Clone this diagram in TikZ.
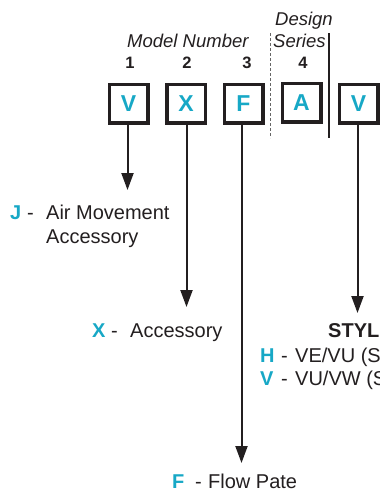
\documentclass[tikz,border=0pt]{standalone}
\usepackage{fontspec}
\setmainfont{Liberation Sans}
\usetikzlibrary{arrows.meta}
\definecolor{ink}{HTML}{231F20}
\definecolor{cy}{HTML}{17A8C6}
\tikzset{
  codebox/.style={draw=ink, line width=3.5pt, minimum size=38.5pt, inner sep=0pt,
    font=\fontsize{23}{23}\selectfont\bfseries, text=cy},
  lbl/.style={inner sep=0pt, anchor=base west, text=ink, font=\fontsize{20}{24}\selectfont},
  key/.style={lbl, text=cy, font=\fontsize{20}{24}\selectfont\bfseries},
  ital/.style={inner sep=0pt, anchor=base west, text=ink, font=\fontsize{18.5}{20}\selectfont\itshape},
  num/.style={inner sep=0pt, anchor=base, text=ink, font=\fontsize{16.5}{18}\selectfont\bfseries},
  arr/.style={draw=ink, line width=2pt, -{Triangle[length=17pt,width=12pt]}},
}
\begin{document}
\begin{tikzpicture}[x=1pt,y=-1pt]
\useasboundingbox (0,0) rectangle (380,493);
\clip (0,0) rectangle (380,493);
\fill[white] (0,0) rectangle (380,493);
% header texts
\node[ital] (design) at (275,25) {Design};
\node[ital] (series) at (273,47) {Series};
\node[ital] (model) at (127,47) {Model Number};
\node[num] (n1) at (130,68) {1};
\node[num] (n2) at (187,68) {2};
\node[num] (n3) at (247,68) {3};
\node[num] (n4) at (303,68) {4};
% separators
\coordinate (d1) at (270.5,33);
\coordinate (d2) at (270.5,138);
\coordinate (s1) at (329,33);
\coordinate (s2) at (329,138);
\draw[gray!80!black, line width=1.2pt, dash pattern=on 3pt off 2pt] (d1) -- (d2);
\draw[ink, line width=1.5pt] (s1) -- (s2);
% boxes
\node[codebox] (b1) at (128.5,103.5) {V};
\node[codebox] (b2) at (186,103.5) {X};
\node[codebox] (b3) at (243.5,103.5) {F};
\node[codebox] (b4) at (301.5,102.5) {A};
\node[codebox] (b5) at (358.5,103.5) {V};
% arrow ends
\coordinate (t1) at (127.5,190);
\coordinate (t2) at (186.5,307);
\coordinate (t3) at (241.5,463);
\coordinate (t5) at (357.5,313);
\draw[arr] (b1.south -| t1) -- (t1);
\draw[arr] (b2.south -| t2) -- (t2);
\draw[arr] (b3.south -| t3) -- (t3);
\draw[arr] (b5.south -| t5) -- (t5);
% J label
\node[key] (kJ) at (10,219) {J};
\node[lbl] (dJ) at (27,219) {-};
\node[lbl] (tJ1) at (46,219) {Air Movement};
\node[lbl] (tJ2) at (46,243) {Accessory};
% X label
\node[key] (kX) at (92,337) {X};
\node[lbl] (dX) at (111,337) {-};
\node[lbl] (tX) at (130,337) {Accessory};
% Style
\node[lbl, font=\fontsize{20}{24}\selectfont\bfseries] (style) at (328,337) {STYL};
\node[key] (kH) at (260,362) {H};
\node[lbl] (dH) at (281,362) {-};
\node[lbl] (tH) at (295,362) {VE/VU (S};
\node[key] (kV) at (260,385) {V};
\node[lbl] (dV) at (281,385) {-};
\node[lbl] (tV) at (295,385) {VU/VW (S};
% F label
\node[key] (kF) at (172,488) {F};
\node[lbl] (dF) at (195,488) {-};
\node[lbl] (tF) at (208,488) {Flow Pate};
\end{tikzpicture}
\end{document}
